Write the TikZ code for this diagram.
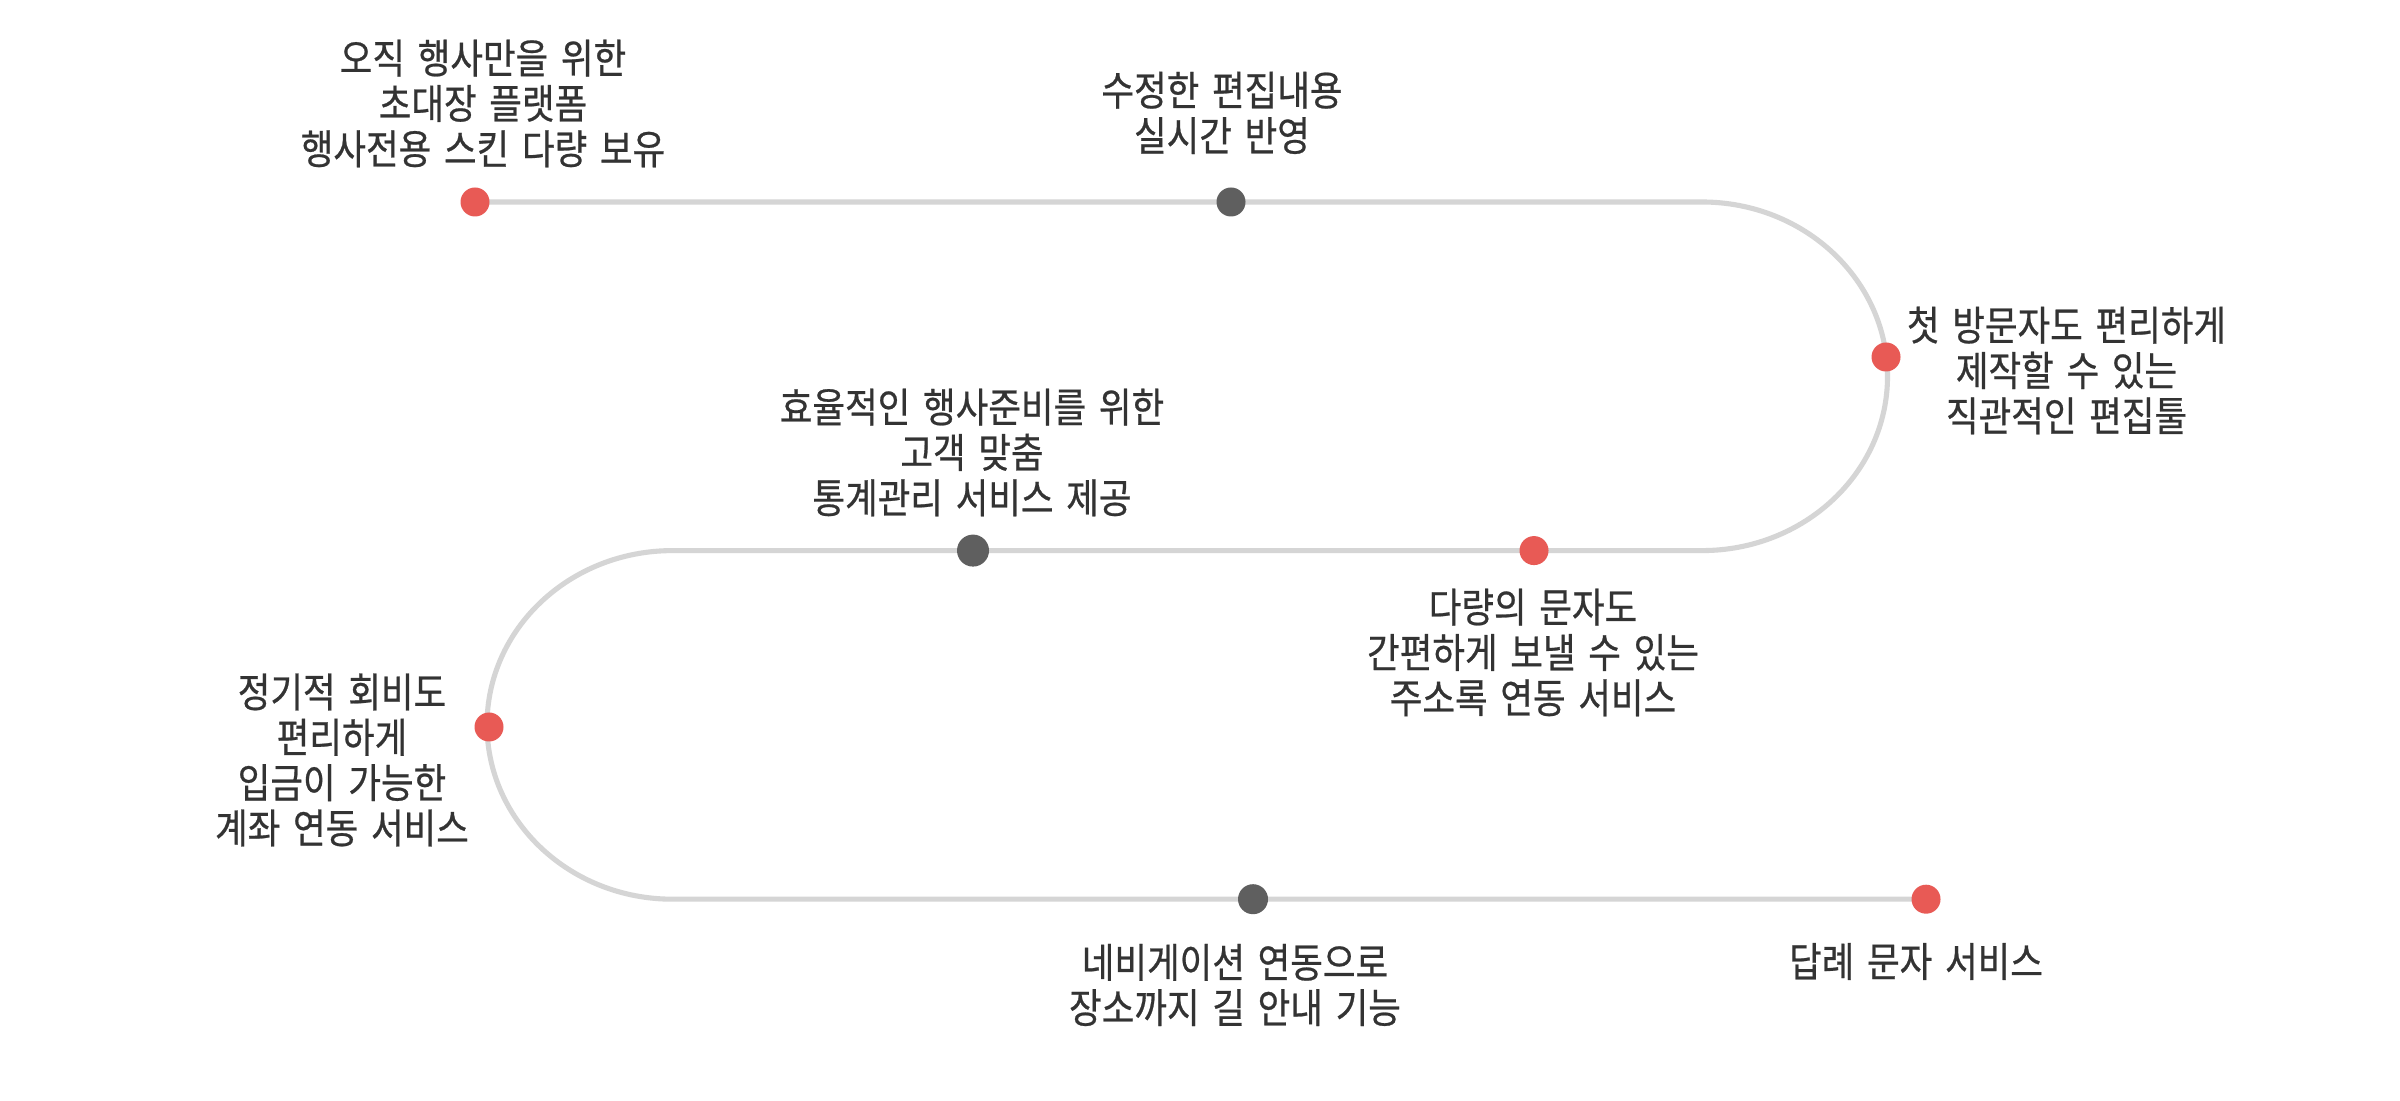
\documentclass[tikz,border=0pt]{standalone}
\usepackage{fontspec}
\setmainfont{Noto Sans CJK KR}[FakeStretch=0.87, WordSpace=1.6, FakeBold=0.6]
\usepackage{xcolor}
\usepackage{tikz}
\usetikzlibrary{positioning,calc}

\definecolor{dotred}{HTML}{E85A55}
\definecolor{dotgray}{HTML}{5F5F5F}
\definecolor{trackgray}{HTML}{D5D5D5}
\definecolor{inkgray}{HTML}{333333}

\begin{document}
\begin{tikzpicture}[
    track/.style={draw=trackgray, line width=1.45pt},
    hot/.style={circle, fill=dotred, minimum size=0.29cm, inner sep=0pt},
    cold/.style={circle, fill=dotgray, minimum size=0.29cm, inner sep=0pt},
    lbl/.style={align=center, inner sep=0pt, text=inkgray,
      font=\fontsize{11.6}{12.9}\selectfont}
]
\fill[white] (0,0) rectangle (24,11);
\useasboundingbox (0,0) rectangle (24,11);

% --- Recorrido ---
\coordinate (start) at (4.75,8.98);
\coordinate (turnR) at (17.02,8.98);
\coordinate (turnL) at (6.725,5.494);
\coordinate (finish) at (19.26,2.008);
\draw[track] (start) -- (turnR)
      arc[start angle=90, end angle=-90, x radius=1.855, y radius=1.743]
      -- (turnL)
      arc[start angle=90, end angle=270, x radius=1.855, y radius=1.743]
      -- (finish);

% --- Puntos ---
\node[hot] (d1) at (start) {};
\node[cold] (d2) at (12.31,8.98) {};
\node[hot] (d3) at (18.86,7.43) {};
\node[hot] (d4) at (15.34,5.494) {};
\node[cold, minimum size=0.32cm] (d5) at (9.73,5.494) {};
\node[hot] (d6) at (4.89,3.73) {};
\node[cold, minimum size=0.3cm] (d7) at (12.53,2.008) {};
\node[hot] (d8) at (finish) {};

% --- Etiquetas ---
\node[lbl] (t1) at (4.83,9.965)
      {오직 행사만을 위한\\초대장 플랫폼\\행사전용 스킨 다량 보유};
\node[lbl] (t2) at (12.22,9.87)
      {수정한 편집내용\\실시간 반영};
\node[lbl] (t3) at (20.665,7.295)
      {첫 방문자도 편리하게\\제작할 수 있는\\직관적인 편집툴};
\node[lbl] (t4) at (9.72,6.475)
      {효율적인 행사준비를 위한\\고객 맞춤\\통계관리 서비스 제공};
\node[lbl] (t5) at (15.33,4.475)
      {다량의 문자도\\간편하게 보낼 수 있는\\주소록 연동 서비스};
\node[lbl] (t6) at (3.42,3.40)
      {정기적 회비도\\편리하게\\입금이 가능한\\계좌 연동 서비스};
\node[lbl] (t7) at (12.35,1.15)
      {네비게이션 연동으로\\장소까지 길 안내 기능};
\node[lbl] (t8) at (19.16,1.385)
      {답례 문자 서비스};
\end{tikzpicture}
\end{document}
